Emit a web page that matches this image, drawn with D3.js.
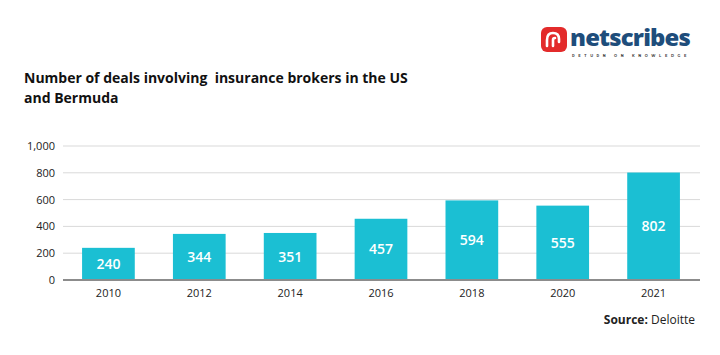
<!DOCTYPE html>
<html><head><meta charset="utf-8">
<script src="https://cdn.jsdelivr.net/npm/d3@7/dist/d3.min.js"></script>
<style>
body{margin:0;background:#fff;}
svg{display:block;font-family:"Montserrat","Open Sans",sans-serif;}
</style></head>
<body><svg id="c" width="720" height="355"></svg>
<script>
const years = ["2010","2012","2014","2016","2018","2020","2021"];
const deals = [240,344,351,457,594,555,802];
const yTicks = [0,200,400,600,800,1000];
const titleLines = ["Number of deals involving\u00a0 insurance brokers in the US","and Bermuda"];

const svg = d3.select("#c");
const x = d3.scaleBand().domain(years).range([63,699]).paddingInner(0.42).paddingOuter(0.21);
const y = d3.scaleLinear().domain([0,1000]).range([280,146]);

// title
svg.append("text").attr("x",24).attr("y",83).attr("font-size",14).attr("font-weight",700)
  .attr("fill","#111").attr("font-family","'Open Sans',sans-serif")
  .selectAll("tspan").data(titleLines).join("tspan")
  .attr("x",24).attr("dy",(d,i)=>i?20:0).text(d=>d);

// grid
const yAxis = d3.axisLeft(y).tickValues(yTicks).tickFormat(d3.format(",")).tickSize(0).tickPadding(8);
const ga = svg.append("g").attr("transform","translate(63,0)").call(yAxis);
ga.select(".domain").remove();
ga.selectAll("text").attr("font-size",11).attr("fill","#222").attr("font-weight",500)
  .attr("font-family","'Open Sans',sans-serif");
ga.selectAll("text").attr("x",-8);
svg.append("g").selectAll("line").data(yTicks.filter(d=>d>0)).join("line")
  .attr("x1",63).attr("x2",700).attr("y1",d=>y(d)).attr("y2",d=>y(d))
  .attr("stroke","#d9d9d9").attr("stroke-width",1);

// bars
svg.append("g").selectAll("rect").data(deals).join("rect")
  .attr("x",(d,i)=>x(years[i])).attr("width",x.bandwidth())
  .attr("y",d=>y(d)).attr("height",d=>y(0)-y(d)).attr("fill","#1bbfd3");
svg.append("g").selectAll("text").data(deals).join("text")
  .attr("x",(d,i)=>x(years[i])+x.bandwidth()/2).attr("y",d=>(y(d)+y(0))/2)
  .attr("dy","0.36em").attr("text-anchor","middle").attr("fill","#fff")
  .attr("font-size",14).attr("font-weight",600).attr("font-family","'Open Sans',sans-serif")
  .text(d=>d);

// baseline
svg.append("line").attr("x1",63).attr("x2",700).attr("y1",y(0)).attr("y2",y(0))
  .attr("stroke","#8c8c8c").attr("stroke-width",2);

// x axis
const xAxis = d3.axisBottom(x).tickSize(0).tickPadding(9);
const gx = svg.append("g").attr("transform",`translate(0,${y(0)})`).call(xAxis);
gx.select(".domain").remove();
gx.selectAll("text").attr("font-size",11).attr("fill","#222").attr("font-weight",500)
  .attr("font-family","'Open Sans',sans-serif");

// source
const src = svg.append("text").attr("x",695).attr("y",324).attr("text-anchor","end")
  .attr("font-size",12).attr("fill","#222").attr("font-family","'Open Sans',sans-serif");
src.append("tspan").attr("font-weight",700).text("Source: ");
src.append("tspan").text("Deloitte");

// logo
const lg = svg.append("g");
lg.append("rect").attr("x",541).attr("y",27).attr("width",26).attr("height",25).attr("rx",6).attr("fill","#e32b2b");
lg.append("path").attr("d","M547 46 L547 40 Q547 33 553 33 Q559 33 559 39 L559 42 M553 46 L553 40 Q553 38 555 38")
  .attr("fill","none").attr("stroke","#fff").attr("stroke-width",2.6).attr("stroke-linecap","round");
lg.append("text").attr("x",570).attr("y",46).attr("font-size",23).attr("font-weight",800)
  .attr("fill","#1e4d7b").attr("font-family","'Open Sans',sans-serif").attr("letter-spacing",-0.8)
  .attr("textLength",120).attr("lengthAdjust","spacingAndGlyphs").text("netscribes");
lg.append("text").attr("x",572).attr("y",57).attr("font-size",3.6).attr("font-weight",700)
  .attr("fill","#444").attr("letter-spacing",1.6).attr("textLength",116).attr("lengthAdjust","spacing")
  .text("RETURN ON KNOWLEDGE");
</script></body></html>
